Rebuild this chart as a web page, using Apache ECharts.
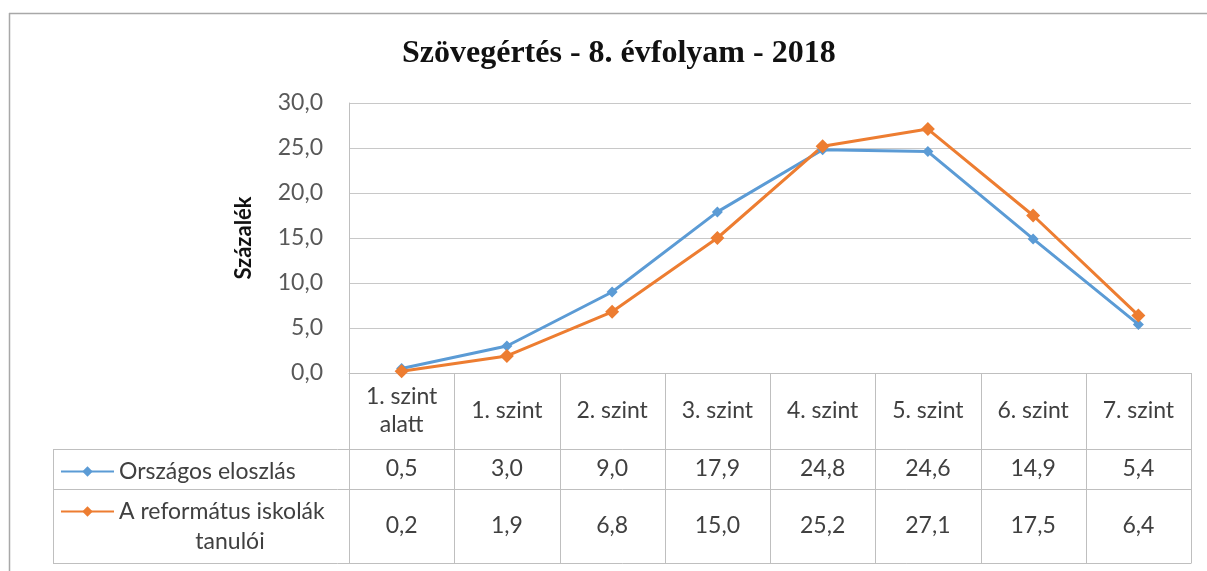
<!DOCTYPE html>
<html>
<head>
<meta charset="utf-8">
<script src="https://cdn.jsdelivr.net/npm/echarts@6/dist/echarts.min.js"></script>
<style>
html,body{margin:0;padding:0;background:#fff;}
#chart{width:1207px;height:571px;}
</style>
</head>
<body>
<div id="chart"></div>
<script>
const categories = ['1. szint\nalatt', '1. szint', '2. szint', '3. szint', '4. szint', '5. szint', '6. szint', '7. szint'];
const orszagos = [0.5, 3.0, 9.0, 17.9, 24.8, 24.6, 14.9, 5.4];
const reformatus = [0.2, 1.9, 6.8, 15.0, 25.2, 27.1, 17.5, 6.4];
const seriesNames = ['Országos eloszlás', 'A református iskolák tanulói'];
const yTicks = [0, 5, 10, 15, 20, 25, 30];
const titleText = 'Szövegértés - 8. évfolyam - 2018';
const yName = 'Százalék';

const fmt = v => Number(v).toFixed(1).replace('.', ',');

// layout
const plotL = 349, plotR = 1191, plotT = 103, plotB = 373;
const row1 = 449, row2 = 489, row3 = 563, boxL = 53;
const FONT = 'Lato';
const FS = 23;
const lineColor = '#BFBFBF';

const chart = echarts.init(document.getElementById('chart'));

const graphics = [];
const line = (x1, y1, x2, y2, c, w) => graphics.push({
  type: 'line', silent: true,
  shape: {x1, y1, x2, y2},
  style: {stroke: c || lineColor, lineWidth: w || 1}
});
const n = categories.length;
for (let i = 0; i <= n; i++) {
  const x = Math.round(plotL + i * (plotR - plotL) / n) + 0.5;
  line(x, plotB, x, row3);
}
[row1, row2, row3].forEach(y => line(boxL, y + 0.5, plotR + 0.5, y + 0.5));
line(boxL + 0.5, row1, boxL + 0.5, row3);
// outer frame
line(9.5, 13, 9.5, 571, '#A8A8A8', 1.5);
line(9, 13.5, 1207, 13.5, '#A8A8A8', 1.5);
// second line of the second legend label
graphics.push({
  type: 'text', x: 230, y: 542, silent: true,
  style: {text: 'tanulói', fill: '#404040', font: FS + 'px ' + FONT, textAlign: 'center', textVerticalAlign: 'middle'}
});

const labelStyle = {color: '#404040', fontFamily: FONT, fontSize: FS};

chart.setOption({
  animation: false,
  backgroundColor: '#fff',
  title: {
    text: titleText, left: 397, top: 33,
    textStyle: {fontFamily: 'Liberation Serif', fontWeight: 'bold', fontSize: 32, color: '#111'}
  },
  grid: {left: plotL, right: 1207 - plotR, top: plotT, bottom: 571 - plotB},
  legend: [
    {
      data: [seriesNames[0]], left: 55, top: 455, orient: 'horizontal',
      itemWidth: 53, itemHeight: 13, itemGap: 4,
      textStyle: Object.assign({}, labelStyle, {padding: [0, 0, 0, 0]})
    },
    {
      data: [seriesNames[1]], left: 55, top: 495, orient: 'horizontal',
      itemWidth: 53, itemHeight: 13, itemGap: 4,
      formatter: () => 'A református iskolák',
      textStyle: Object.assign({}, labelStyle, {padding: [0, 0, 0, 0]})
    }
  ],
  xAxis: [
    {
      type: 'category', data: categories, boundaryGap: true,
      axisLine: {lineStyle: {color: lineColor}}, axisTick: {show: false},
      axisLabel: Object.assign({interval: 0, verticalAlign: 'middle', margin: 38, lineHeight: 28}, labelStyle)
    },
    {
      type: 'category', data: categories, boundaryGap: true, position: 'bottom',
      axisLine: {show: false}, axisTick: {show: false},
      axisLabel: Object.assign({interval: 0, verticalAlign: 'middle', margin: 96,
        formatter: (v, i) => fmt(orszagos[i])}, labelStyle)
    },
    {
      type: 'category', data: categories, boundaryGap: true, position: 'bottom',
      axisLine: {show: false}, axisTick: {show: false},
      axisLabel: Object.assign({interval: 0, verticalAlign: 'middle', margin: 153,
        formatter: (v, i) => fmt(reformatus[i])}, labelStyle)
    }
  ],
  yAxis: {
    type: 'value', min: yTicks[0], max: yTicks[yTicks.length - 1], interval: yTicks[1] - yTicks[0],
    axisLine: {show: true, lineStyle: {color: lineColor}}, axisTick: {show: false},
    splitLine: {lineStyle: {color: '#C8C8C8'}},
    axisLabel: {formatter: v => fmt(v), color: '#595959', fontFamily: FONT, fontSize: FS, margin: 26},
    name: yName, nameLocation: 'middle', nameGap: 94, nameRotate: 90,
    nameTextStyle: {fontFamily: FONT, fontWeight: 'bold', fontSize: 22, color: '#111'}
  },
  series: [
    {
      name: seriesNames[0], type: 'line', data: orszagos, xAxisIndex: 0,
      symbol: 'diamond', symbolSize: 11,
      lineStyle: {color: '#5B9BD5', width: 3}, itemStyle: {color: '#5B9BD5'}
    },
    {
      name: seriesNames[1], type: 'line', data: reformatus, xAxisIndex: 0,
      symbol: 'diamond', symbolSize: 14,
      lineStyle: {color: '#ED7D31', width: 3}, itemStyle: {color: '#ED7D31'}
    }
  ],
  graphic: graphics
});
</script>
</body>
</html>
